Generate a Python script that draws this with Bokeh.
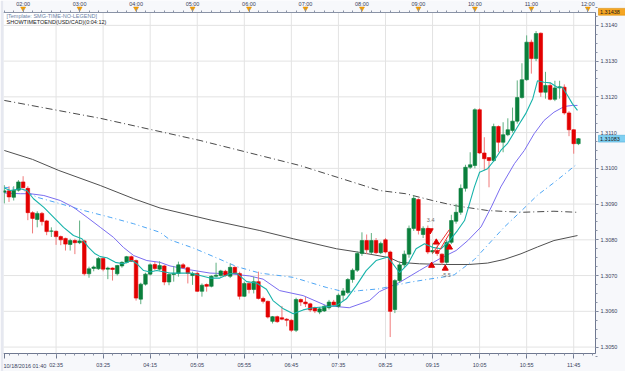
from bokeh.plotting import figure
from bokeh.models import (ColumnDataSource, Range1d, LinearAxis, FixedTicker, BoxAnnotation,
                          Label, PrintfTickFormatter)
from bokeh.embed import file_html
from bokeh.resources import INLINE

# ---------------- data (USD/CAD M5, 10/18/2016 01:40 .. 11:50) ----------------
opens = [1.30933, 1.30937, 1.30919, 1.30939, 1.30962, 1.30944, 1.30876, 1.30857, 1.30874, 1.30853,
         1.30824, 1.30824, 1.30809, 1.30804, 1.30787, 1.30798, 1.30792, 1.30797, 1.30705, 1.30720,
         1.30719, 1.30748, 1.30718, 1.30721, 1.30705, 1.30727, 1.30737, 1.30753, 1.30742, 1.30634,
         1.30676, 1.30704, 1.30731, 1.30718, 1.30727, 1.30682, 1.30703, 1.30706, 1.30730, 1.30722,
         1.30700, 1.30706, 1.30656, 1.30675, 1.30670, 1.30698, 1.30700, 1.30712, 1.30698, 1.30723,
         1.30706, 1.30642, 1.30678, 1.30661, 1.30683, 1.30636, 1.30628, 1.30572, 1.30585, 1.30582,
         1.30578, 1.30575, 1.30547, 1.30633, 1.30626, 1.30621, 1.30610, 1.30598, 1.30601, 1.30610,
         1.30626, 1.30614, 1.30645, 1.30653, 1.30689, 1.30715, 1.30762, 1.30798, 1.30765, 1.30798,
         1.30764, 1.30800, 1.30766, 1.30605, 1.30686, 1.30730, 1.30760, 1.30832, 1.30913, 1.30815,
         1.30832, 1.30766, 1.30770, 1.30760, 1.30737, 1.30793, 1.30852, 1.30877, 1.30944, 1.31003,
         1.31008, 1.31164, 1.31043, 1.31030, 1.31022, 1.31117, 1.31073, 1.31094, 1.31106, 1.31132,
         1.31198, 1.31248, 1.31353, 1.31307, 1.31378, 1.31213, 1.31232, 1.31193, 1.31225, 1.31227,
         1.31155, 1.31108, 1.31069]
highs = [1.30953, 1.30950, 1.30950, 1.30967, 1.30978, 1.30950, 1.30880, 1.30880, 1.30878, 1.30856,
         1.30835, 1.30826, 1.30812, 1.30806, 1.30803, 1.30803, 1.30854, 1.30800, 1.30725, 1.30728,
         1.30752, 1.30752, 1.30725, 1.30723, 1.30730, 1.30740, 1.30755, 1.30756, 1.30745, 1.30680,
         1.30708, 1.30734, 1.30738, 1.30740, 1.30730, 1.30707, 1.30727, 1.30739, 1.30735, 1.30725,
         1.30711, 1.30711, 1.30678, 1.30678, 1.30701, 1.30736, 1.30716, 1.30716, 1.30734, 1.30726,
         1.30711, 1.30683, 1.30683, 1.30697, 1.30711, 1.30641, 1.30630, 1.30587, 1.30588, 1.30615,
         1.30581, 1.30578, 1.30638, 1.30636, 1.30640, 1.30624, 1.30613, 1.30612, 1.30618, 1.30632,
         1.30632, 1.30650, 1.30665, 1.30693, 1.30720, 1.30768, 1.30821, 1.30815, 1.30819, 1.30805,
         1.30795, 1.30805, 1.30770, 1.30690, 1.30740, 1.30770, 1.30840, 1.30924, 1.30916, 1.30838,
         1.30840, 1.30790, 1.30785, 1.30762, 1.30800, 1.30870, 1.30900, 1.30955, 1.31010, 1.31045,
         1.31168, 1.31168, 1.31087, 1.31030, 1.31125, 1.31120, 1.31129, 1.31140, 1.31170, 1.31246,
         1.31294, 1.31372, 1.31360, 1.31384, 1.31380, 1.31270, 1.31240, 1.31245, 1.31245, 1.31235,
         1.31160, 1.31110, 1.31085]
lows = [1.30902, 1.30906, 1.30910, 1.30935, 1.30944, 1.30855, 1.30818, 1.30835, 1.30840, 1.30813,
        1.30808, 1.30786, 1.30785, 1.30770, 1.30770, 1.30760, 1.30788, 1.30700, 1.30694, 1.30712,
        1.30716, 1.30712, 1.30690, 1.30686, 1.30700, 1.30722, 1.30734, 1.30738, 1.30630, 1.30620,
        1.30672, 1.30700, 1.30714, 1.30714, 1.30673, 1.30673, 1.30683, 1.30697, 1.30720, 1.30678,
        1.30674, 1.30654, 1.30641, 1.30655, 1.30667, 1.30695, 1.30697, 1.30697, 1.30693, 1.30704,
        1.30633, 1.30640, 1.30650, 1.30650, 1.30633, 1.30622, 1.30580, 1.30566, 1.30568, 1.30575,
        1.30558, 1.30542, 1.30542, 1.30615, 1.30612, 1.30598, 1.30595, 1.30592, 1.30598, 1.30605,
        1.30614, 1.30610, 1.30630, 1.30648, 1.30680, 1.30710, 1.30755, 1.30760, 1.30760, 1.30760,
        1.30760, 1.30762, 1.30528, 1.30595, 1.30680, 1.30722, 1.30750, 1.30825, 1.30815, 1.30805,
        1.30760, 1.30760, 1.30755, 1.30730, 1.30733, 1.30788, 1.30845, 1.30870, 1.30935, 1.30998,
        1.31000, 1.31040, 1.30994, 1.30947, 1.31018, 1.31045, 1.31045, 1.31090, 1.31100, 1.31125,
        1.31195, 1.31245, 1.31265, 1.31300, 1.31200, 1.31195, 1.31190, 1.31188, 1.31195, 1.31150,
        1.31090, 1.31041, 1.31065]
closes = [1.30937, 1.30920, 1.30939, 1.30962, 1.30946, 1.30876, 1.30860, 1.30874, 1.30851, 1.30823,
          1.30825, 1.30809, 1.30800, 1.30788, 1.30798, 1.30792, 1.30797, 1.30705, 1.30719, 1.30724,
          1.30748, 1.30718, 1.30721, 1.30717, 1.30728, 1.30737, 1.30753, 1.30740, 1.30637, 1.30676,
          1.30704, 1.30730, 1.30720, 1.30728, 1.30682, 1.30703, 1.30706, 1.30730, 1.30722, 1.30706,
          1.30706, 1.30656, 1.30673, 1.30670, 1.30698, 1.30701, 1.30713, 1.30700, 1.30723, 1.30706,
          1.30642, 1.30678, 1.30661, 1.30683, 1.30636, 1.30628, 1.30584, 1.30585, 1.30571, 1.30578,
          1.30575, 1.30547, 1.30633, 1.30626, 1.30621, 1.30604, 1.30601, 1.30607, 1.30614, 1.30626,
          1.30618, 1.30645, 1.30657, 1.30689, 1.30715, 1.30762, 1.30798, 1.30772, 1.30798, 1.30764,
          1.30790, 1.30766, 1.30600, 1.30686, 1.30730, 1.30760, 1.30832, 1.30916, 1.30826, 1.30832,
          1.30766, 1.30770, 1.30762, 1.30737, 1.30793, 1.30854, 1.30877, 1.30944, 1.31003, 1.31010,
          1.31164, 1.31043, 1.31027, 1.31022, 1.31117, 1.31073, 1.31094, 1.31108, 1.31132, 1.31198,
          1.31248, 1.31353, 1.31307, 1.31377, 1.31213, 1.31232, 1.31193, 1.31225, 1.31228, 1.31155,
          1.31108, 1.31069, 1.31083]

# indicator lines, read at sample bar positions
fast_ma_idx = [0, 1.3, 3.4, 4.8, 6.2, 8.4, 10.5, 12.6, 14.7, 16.5, 17.9, 19.3, 20.4, 21.8, 23.6, 25.3,
               27.1, 28.2, 29.6, 31, 32.4, 35.2, 39.5, 43.7, 45.8, 47.9, 49.4, 51.5, 53.6, 55.7, 57.1,
               59.3, 61.4, 63.5, 65.6, 68.4, 70.6, 72.7, 74.8, 76.9, 79, 81.5, 84, 85.8, 87.5, 89.3,
               91, 92.8, 94.6, 96.3, 97.8, 99.9, 101, 102.7, 104.1, 105.5, 106.9, 109.1, 110.8, 112.3,
               113.3, 114.7, 116.1, 117.5, 118.6, 119.7, 120.7, 121.8]
fast_ma_val = [1.30945, 1.30938, 1.30943, 1.30938, 1.30915, 1.30891, 1.30863, 1.30835, 1.30812, 1.30803,
               1.30779, 1.30761, 1.30753, 1.30750, 1.30737, 1.30733, 1.30742, 1.30733, 1.30714, 1.30710,
               1.30714, 1.30707, 1.30707, 1.30693, 1.30693, 1.30705, 1.30707, 1.30683, 1.30679, 1.30662,
               1.30630, 1.30607, 1.30593, 1.30604, 1.30610, 1.30613, 1.30616, 1.30635, 1.30672, 1.30714,
               1.30742, 1.30752, 1.30708, 1.30733, 1.30775, 1.30789, 1.30779, 1.30775, 1.30798, 1.30826,
               1.30854, 1.30948, 1.30989, 1.30999, 1.31022, 1.31050, 1.31069, 1.31117, 1.31153, 1.31195,
               1.31245, 1.31241, 1.31239, 1.31227, 1.31227, 1.31204, 1.31181, 1.31162]
mid_ma_idx = [0, 3.4, 5.5, 8.4, 11.9, 14.7, 17.6, 20.4, 23.2, 25.3, 27.5, 30.3, 33.1, 35.2, 39.5, 43.7,
              47.9, 52.1, 55, 58.5, 63.5, 68.4, 73.3, 77.6, 79.7, 84, 88.2, 92.5, 96, 98.5, 101.3,
              103.5, 105.5, 108.4, 110.5, 112.6, 114.7, 116.8, 119, 120.7, 121.8]
mid_ma_val = [1.30931, 1.30929, 1.30929, 1.30924, 1.30910, 1.30891, 1.30863, 1.30835, 1.30807, 1.30779,
              1.30756, 1.30742, 1.30737, 1.30727, 1.30716, 1.30707, 1.30705, 1.30699, 1.30690, 1.30658,
              1.30644, 1.30616, 1.30610, 1.30630, 1.30655, 1.30681, 1.30714, 1.30747, 1.30770, 1.30798,
              1.30836, 1.30892, 1.30948, 1.31013, 1.31050, 1.31097, 1.31134, 1.31157, 1.31173, 1.31176,
              1.31176]
slow_ma_idx = [0, 3.4, 7, 11.9, 16.9, 22.5, 27.5, 33.1, 35.2, 40.2, 45.2, 49.4, 54.3, 61.4, 68.4, 72.7,
               75.5, 79.7, 86, 90.2, 93.8, 95.6, 99.9, 102.7, 106.2, 109.8, 113.3, 116.8, 121.8]
slow_ma_val = [1.30947, 1.30943, 1.30919, 1.30901, 1.30882, 1.30863, 1.30845, 1.30821, 1.30800, 1.30777,
               1.30749, 1.30725, 1.30707, 1.30695, 1.30667, 1.30653, 1.30658, 1.30663, 1.30681, 1.30690,
               1.30697, 1.30702, 1.30745, 1.30785, 1.30835, 1.30880, 1.30925, 1.30960, 1.31013]
long_ma_idx = [0, 6, 11.6, 20.4, 27.5, 33.1, 44, 54.3, 61.4, 70.6, 75.5, 81.9, 84, 88.2, 93.8, 98.8,
               102.7, 106.2, 109.8, 113.3, 116.8, 121.8]
long_ma_val = [1.31050, 1.31025, 1.30994, 1.30952, 1.30915, 1.30889, 1.30855, 1.30826, 1.30803, 1.30775,
               1.30765, 1.30750, 1.30737, 1.30733, 1.30731, 1.30731, 1.30735, 1.30745, 1.30761, 1.30780,
               1.30798, 1.30812]
longest_ma_idx = [0, 20.4, 41.6, 62.8, 79.7, 85.3, 91, 95.6, 102.7, 109.8, 116.8, 121.8]
longest_ma_val = [1.31190, 1.31140, 1.31078, 1.31008, 1.30938, 1.30929, 1.30910, 1.30896, 1.30882,
                  1.30877, 1.30880, 1.30877]

# trade marks
buy_arrow_idx = [90.8, 93.7, 91.8, 94.6]
buy_arrow_val = [1.30728, 1.30720, 1.30793, 1.30779]
sell_arrow_idx = [90.5]
sell_arrow_val = [1.30826]
trade_line_x0 = [91.0, 92.0]
trade_line_y0 = [1.30762, 1.30760]
trade_line_x1 = [94.6, 94.8]
trade_line_y1 = [1.30829, 1.30822]
trade_text_idx = [90.6, 93.9]
trade_text_val = [1.30856, 1.30702]
trade_text = ["3.4", "-5.5"]

hour_ticks = [4, 16, 28, 40, 52, 64, 76, 88, 100, 112, 124]
hour_labels = ["02:00", "03:00", "04:00", "05:00", "06:00", "07:00", "08:00", "09:00",
               "10:00", "11:00", "12:00"]
time_ticks = [11, 21, 31, 41, 51, 61, 71, 81, 91, 101, 111, 121]
time_labels = ["02:35", "03:25", "04:15", "05:05", "05:55", "06:45", "07:35", "08:25",
               "09:15", "10:05", "10:55", "11:45"]
first_time_label = "10/18/2016 01:40"
price_ticks = [1.3050, 1.3060, 1.3070, 1.3080, 1.3090, 1.3100, 1.3110, 1.3120, 1.3130, 1.3140]
top_price = 1.31438
header_1 = "[Template: SMG-TIME-NO-LEGEND]"
header_2 = "SHOWTIMETOEND(USD/CAD)(0:04:12)"

# ---------------- geometry of the chart window ----------------
W, H = 625, 371
LEFT = 3                       # canvas px left of the frame
CX0, CX1 = 3, 595              # chart area in canvas px (x)
CY0, CY1 = 12, 353             # chart area in canvas px (y, from top)
X0, X1 = -0.17, 125.63         # bar index at chart edges
Y0, Y1 = 1.30482, 1.31436      # price at chart bottom / top
ppx = (CX1 - CX0) / (X1 - X0)  # px per bar
ppy = (CY1 - CY0) / (Y1 - Y0)  # px per price unit
xr = Range1d(X0 - (CX0 - LEFT) / ppx, X1 + (W - CX1) / ppx)
yr = Range1d(Y0 - (H - CY1) / ppy, Y1 + CY0 / ppy)


def px_to_x(px):
    return X0 + (px - CX0) / ppx


def px_to_y(py):
    return Y1 - (py - CY0) / ppy


FONT = "Liberation Sans"
FS = "5.5px"
AX_TXT = "#39425C"
MARGIN_BG = "#F7F8FB"
GREEN, GREEN_W = "#0A7F3C", "#5FAF80"
RED, RED_W = "#E30000", "#F07A7A"

p = figure(width=W, height=H, x_range=xr, y_range=yr,
           x_axis_location=None, y_axis_location=None,
           toolbar_location=None, output_backend="svg",
           min_border_left=LEFT, min_border_right=0, min_border_top=0, min_border_bottom=0,
           background_fill_color=MARGIN_BG, border_fill_color="#E6E8F0",
           outline_line_color=None)
p.grid.visible = False

# white chart window
p.add_layout(BoxAnnotation(left=X0, right=X1, bottom=Y0, top=Y1, fill_color="white",
                           fill_alpha=1, line_color="#B4BAC8", line_width=1, level="underlay"))

# grid lines (only inside the chart window)
p.segment(x0=[X0] * len(price_ticks), y0=price_ticks, x1=[X1] * len(price_ticks), y1=price_ticks,
          line_color="#E3E3E3", line_width=1)
p.segment(x0=time_ticks, y0=[Y0] * len(time_ticks), x1=time_ticks, y1=[Y1] * len(time_ticks),
          line_color="#E3E3E3", line_width=1)

# top time ruler
top_ax = LinearAxis(ticker=FixedTicker(ticks=hour_ticks, minor_ticks=list(range(0, 126, 2))),
                    fixed_location=Y1, bounds=(X0, X1),
                    major_label_overrides={t: s for t, s in zip(hour_ticks, hour_labels)},
                    major_tick_in=0, major_tick_out=4, major_tick_line_color="#8A93A6",
                    minor_tick_in=0, minor_tick_out=2, minor_tick_line_color="#8A93A6",
                    axis_line_color="#8A93A6", major_label_standoff=2,
                    major_label_text_font=FONT, major_label_text_font_size=FS,
                    major_label_text_color=AX_TXT)
p.add_layout(top_ax, "above")
p.scatter(hour_ticks, [px_to_y(8)] * len(hour_ticks), marker="inverted_triangle", size=5,
          fill_color="#F5A000", line_color="#E08C00", line_width=0.5)

# bottom time scale
bot_ticks = [0] + time_ticks
bot_over = {0: ""}
bot_over.update({t: s for t, s in zip(time_ticks, time_labels)})
bot_ax = LinearAxis(ticker=FixedTicker(ticks=bot_ticks, minor_ticks=list(range(1, 126, 2))),
                    fixed_location=Y0, bounds=(X0, X1),
                    major_label_overrides=bot_over,
                    major_tick_in=0, major_tick_out=5, major_tick_line_color="#6F7890",
                    minor_tick_in=0, minor_tick_out=2, minor_tick_line_color="#8A93A6",
                    axis_line_color="#6F7890", major_label_standoff=3,
                    major_label_text_font=FONT, major_label_text_font_size=FS,
                    major_label_text_color=AX_TXT)
p.add_layout(bot_ax, "below")
p.text([px_to_x(3)], [px_to_y(365)], text=[first_time_label], text_font_size=FS,
       text_color=AX_TXT, text_align="left", text_baseline="middle")

# right price scale
minor_price = [round(1.3050 + k * 0.00025, 5) for k in range(-1, 40)]
right_ax = LinearAxis(ticker=FixedTicker(ticks=price_ticks, minor_ticks=minor_price),
                      fixed_location=X1, bounds=(Y0, Y1),
                      formatter=PrintfTickFormatter(format="%.4f"),
                      major_tick_in=0, major_tick_out=3, major_tick_line_color="#6F7890",
                      minor_tick_in=0, minor_tick_out=2, minor_tick_line_color="#8A93A6",
                      axis_line_color="#6F7890", major_label_standoff=2,
                      major_label_text_font=FONT, major_label_text_font_size=FS,
                      major_label_text_color=AX_TXT)
p.add_layout(right_ax, "right")

# indicator lines
p.line(longest_ma_idx, longest_ma_val, line_color="#4A4A4A", line_width=1, line_dash="7 3 1 3")
p.line(long_ma_idx, long_ma_val, line_color="#505050", line_width=1)
p.line(slow_ma_idx, slow_ma_val, line_color="#4EA6F5", line_width=1, line_dash="5 3 1 3")
p.line(mid_ma_idx, mid_ma_val, line_color="#7A6DF0", line_width=1)

# candles
up = dict(x=[], top=[], bottom=[], high=[], low=[])
dn = dict(x=[], top=[], bottom=[], high=[], low=[])
for i, (o, h, l, c) in enumerate(zip(opens, highs, lows, closes)):
    d = up if c >= o else dn
    d["x"].append(i)
    d["top"].append(max(o, c))
    d["bottom"].append(min(o, c))
    d["high"].append(h)
    d["low"].append(l)
src_up = ColumnDataSource(up)
src_dn = ColumnDataSource(dn)
p.segment(x0="x", y0="low", x1="x", y1="high", source=src_up, line_color=GREEN_W, line_width=1)
p.segment(x0="x", y0="low", x1="x", y1="high", source=src_dn, line_color=RED_W, line_width=1)
p.vbar(x="x", width=0.76, top="top", bottom="bottom", source=src_up,
       fill_color=GREEN, line_color=GREEN, line_width=0.6)
p.vbar(x="x", width=0.76, top="top", bottom="bottom", source=src_dn,
       fill_color=RED, line_color=RED, line_width=0.6)

p.line(fast_ma_idx, fast_ma_val, line_color="#17B3AA", line_width=1.1)

# trade marks
p.segment(x0=trade_line_x0, y0=trade_line_y0, x1=trade_line_x1, y1=trade_line_y1,
          line_color="#F03030", line_width=1)
p.scatter(buy_arrow_idx, buy_arrow_val, marker="triangle", size=6,
          fill_color="#E00000", line_color="#E00000")
p.scatter(sell_arrow_idx, sell_arrow_val, marker="inverted_triangle", size=6,
          fill_color="#E00000", line_color="#E00000")
p.text(trade_text_idx, trade_text_val, text=trade_text, text_font_size=FS,
       text_color="#707070", text_align="center", text_baseline="middle")

# header texts (frame-relative screen units, frame spans the full height)
p.add_layout(Label(x=CX0 - LEFT + 3, y=H - 12.5, x_units="screen", y_units="screen",
                   text=header_1, text_font=FONT, text_font_size=FS, text_color="#6B7FA6",
                   text_baseline="top"))
p.add_layout(Label(x=CX0 - LEFT + 3, y=H - 18.5, x_units="screen", y_units="screen",
                   text=header_2, text_font=FONT, text_font_size=FS, text_color="#1A1A1A",
                   text_baseline="top"))

# price tags on the right scale
tag_vals = [max(top_price, px_to_y(12.8)), closes[-1]]
tag_text = ["%.5f" % top_price, "%.5f" % closes[-1]]
tag_fill = ["#F6A623", "#7FD0F2"]
half = 3.4 / ppy
p.quad(left=[px_to_x(598)] * 2, right=[px_to_x(625)] * 2,
       bottom=[v - half for v in tag_vals], top=[v + half for v in tag_vals],
       fill_color=tag_fill, line_color=["#D98A00", "#4FAED8"], line_width=0.6)
p.text([px_to_x(599.5)] * 2, tag_vals, text=tag_text, text_font_size=FS,
       text_color="#1A1A1A", text_align="left", text_baseline="middle")

open("out.html", "w").write(file_html(p, INLINE))
